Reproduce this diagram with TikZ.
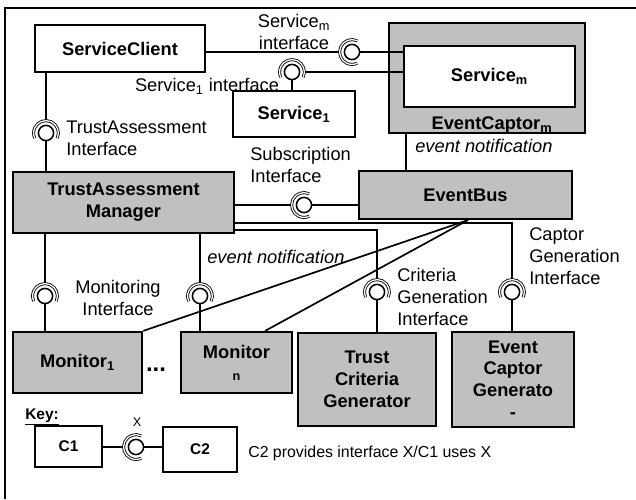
\documentclass[tikz,border=0pt]{standalone}
\usepackage{fontspec}
\setmainfont{Liberation Sans}
\usetikzlibrary{calc}
\definecolor{boxgray}{HTML}{C0C0C0}

\begin{document}
\begin{tikzpicture}[
    x=0.025cm, y=-0.025cm,
    box/.style={draw, line width=1.5pt, inner sep=0pt, align=center, font=\fontsize{13}{15.5}\selectfont\bfseries},
    graybox/.style={box, fill=boxgray},
    conn/.style={line width=1.2pt},
    ball/.style={circle, draw, line width=1.1pt, fill=white, minimum size=0.38cm, inner sep=0pt},
    sock/.style={line width=0.6pt, double, double distance=0.9pt},
    lbl/.style={font=\fontsize{13}{15.5}\selectfont, align=left, inner sep=0pt},
    evt/.style={lbl, font=\fontsize{13}{15.5}\selectfont\itshape}
]
\useasboundingbox (0,0) rectangle (636,499);

% ---- outer frame (cut off at right and bottom) ----
\draw[line width=1.8pt] (5,499) -- (5,8) -- (636,8);

% ---- Components ----
\node[box, minimum width=4.25cm, minimum height=1.175cm] (client) at (120,48.5) {ServiceClient};
\node[graybox, minimum width=4.9cm, minimum height=2.75cm] (captorm) at (487,78) {};
\node[box, fill=white, minimum width=4.275cm, minimum height=1.525cm] (servm) at (489.5,76.5) {Service\textsubscript{m}};
\node[font=\fontsize{13}{15.5}\selectfont\bfseries, inner sep=0pt] (captormlbl) at (492,125) {EventCaptor\textsubscript{m}};
\node[box, minimum width=3.05cm, minimum height=1.15cm] (serv1) at (294,114) {Service\textsubscript{1}};
\node[graybox, minimum width=5.525cm, minimum height=1.525cm] (tam) at (123.5,202.5) {TrustAssessment\\Manager};
\node[graybox, minimum width=5.325cm, minimum height=1.2cm] (bus) at (465.5,195) {EventBus};
\node[graybox, minimum width=3.225cm, minimum height=1.525cm] (mon1) at (77.5,362.5) {Monitor\textsubscript{1}};
\node[graybox, minimum width=2.775cm, minimum height=1.525cm] (monn) at (236.5,362.5) {Monitor\\[0pt]{\fontsize{9}{9}\selectfont n}};
\node[graybox, minimum width=3.45cm, minimum height=2.325cm] (crit) at (367,379.5) {Trust\\Criteria\\Generator};
\node[graybox, minimum width=3.05cm, minimum height=2.375cm] (capgen) at (513,379.5) {Event\\Captor\\Generato\\-};
\node[font=\fontsize{17}{17}\selectfont\bfseries] (dots) at (156,370) {...};

% ---- Interface balls ----
\node[ball] (sockm) at (352,52) {};
\node[ball] (sock1) at (292,72) {};
\node[ball] (sockta) at (46,133) {};
\node[ball] (socksub) at (304,205) {};
\node[ball] (sockmo1) at (45,296) {};
\node[ball] (sockmon) at (200,296) {};
\node[ball] (sockcrit) at (377,292) {};
\node[ball] (sockcap) at (512,292) {};

% ---- Connectors ----
\draw[conn] (client.east |- sockm) -- ([xshift=-0.31cm]sockm.center);
\draw[conn] (sockm) -- (servm.west |- sockm);
\draw[conn] (servm.west |- sock1) -- ([xshift=0.31cm]sock1.center);
\draw[conn] (sock1) -- (serv1.north -| sock1);
\draw[conn] (client.south -| sockta) -- ([yshift=0.31cm]sockta.center);
\draw[conn] (sockta) -- (tam.north -| sockta);
\draw[conn] (tam.east |- socksub) -- ([xshift=-0.31cm]socksub.center);
\draw[conn] (socksub) -- (bus.west |- socksub);
\draw[conn] ($(captorm.south west)+(18,0)$) -- ($(bus.north west)+(48,0)$);
\draw[conn] (tam.south -| sockmo1) -- ([yshift=0.31cm]sockmo1.center);
\draw[conn] (sockmo1) -- (mon1.north -| sockmo1);
\draw[conn] (tam.south -| sockmon) -- ([yshift=0.31cm]sockmon.center);
\draw[conn] (sockmon) -- (monn.north -| sockmon);
\draw[conn] ($(tam.east)+(0,20.5)$) -| ([yshift=0.31cm]sockcap.center);
\draw[conn] ($(tam.east)+(0,27.5)$) -| ([yshift=0.31cm]sockcrit.center);
\draw[conn] (sockcrit) -- (crit.north -| sockcrit);
\draw[conn] (sockcap) -- (capgen.north -| sockcap);
\draw[conn] ($(bus.south)+(2.5,0)$) -- (mon1.north east);
\draw[conn] ($(bus.south)+(2.5,0)$) -- ($(monn.north)+(28.5,0)$);

% ---- Sockets ----
\draw[sock] ([shift={(65:0.31cm)}]sockm.center) arc[start angle=65, end angle=295, radius=0.31cm];
\draw[sock] ([shift={(-25:0.31cm)}]sock1.center) arc[start angle=-25, end angle=205, radius=0.31cm];
\draw[sock] ([shift={(-25:0.31cm)}]sockta.center) arc[start angle=-25, end angle=205, radius=0.31cm];
\draw[sock] ([shift={(65:0.31cm)}]socksub.center) arc[start angle=65, end angle=295, radius=0.31cm];
\draw[sock] ([shift={(-25:0.31cm)}]sockmo1.center) arc[start angle=-25, end angle=205, radius=0.31cm];
\draw[sock] ([shift={(-25:0.31cm)}]sockmon.center) arc[start angle=-25, end angle=205, radius=0.31cm];
\draw[sock] ([shift={(-25:0.31cm)}]sockcrit.center) arc[start angle=-25, end angle=205, radius=0.31cm];
\draw[sock] ([shift={(-25:0.31cm)}]sockcap.center) arc[start angle=-25, end angle=205, radius=0.31cm];

% ---- Labels ----
\node[lbl, align=center] (lblsm) at (294,32) {Service\textsubscript{m}\\interface};
\node[lbl] (lbls1) at (207,86) {Service\textsubscript{1} interface};
\node[lbl, anchor=west] (lblta) at (66,138) {TrustAssessment\\Interface};
\node[lbl, anchor=west] (lblsub) at (250,165) {Subscription\\Interface};
\node[evt, anchor=west] (lblev1) at (415,146) {event notification};
\node[evt, anchor=west] (lblev2) at (207,257) {event notification};
\node[lbl, align=center] (lblmo) at (118,298) {Monitoring\\Interface};
\node[lbl, anchor=west] (lblcrit) at (397,297) {Criteria\\Generation\\Interface};
\node[lbl, anchor=west] (lblcap) at (529,256) {Captor\\Generation\\Interface};

% ---- Key ----
\node[lbl, font=\fontsize{11}{13}\selectfont\bfseries, anchor=west] (keyttl) at (25,417) {\underline{Key:}};
\node[box, font=\fontsize{11}{13}\selectfont\bfseries, minimum width=1.675cm, minimum height=1.025cm] (c1) at (68.5,446.5) {C1};
\node[box, font=\fontsize{11}{13}\selectfont\bfseries, minimum width=1.85cm, minimum height=1.125cm] (c2) at (200,449.5) {C2};
\node[ball] (sockkey) at (136,447) {};
\draw[conn] (c1.east |- sockkey) -- ([xshift=-0.31cm]sockkey.center);
\draw[conn] (sockkey) -- (c2.west |- sockkey);
\draw[sock] ([shift={(65:0.31cm)}]sockkey.center) arc[start angle=65, end angle=295, radius=0.31cm];
\node[lbl, font=\fontsize{9}{10}\selectfont] (keyx) at (137,422) {X};
\node[lbl, font=\fontsize{11.3}{13}\selectfont, anchor=west] (keytxt) at (248,453) {C2 provides interface X/C1 uses X};

\end{tikzpicture}
\end{document}
